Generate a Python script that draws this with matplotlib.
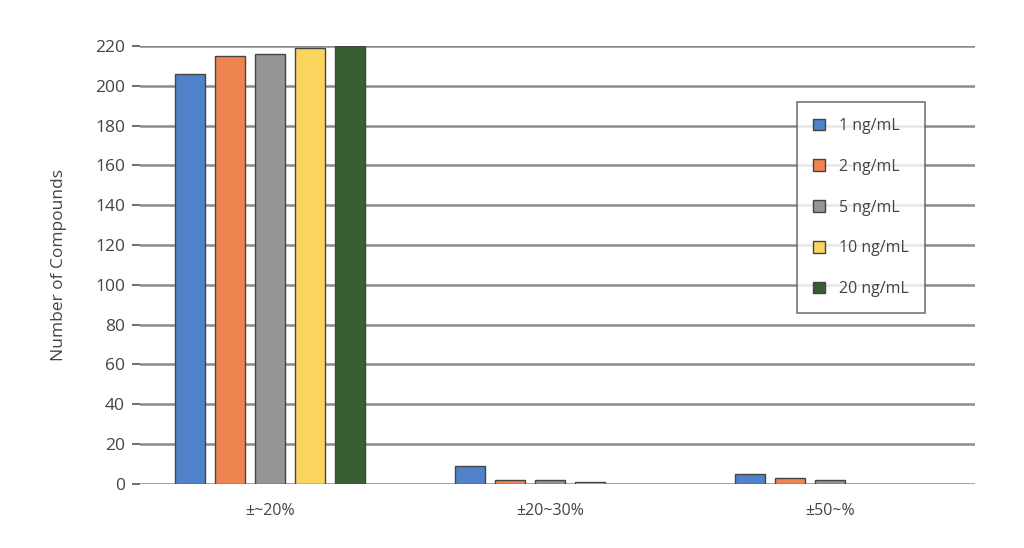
import numpy as np
import matplotlib.pyplot as plt

plt.rcParams['font.family'] = ['Open Sans', 'DejaVu Sans']

categories = ['±~20%', '±20~30%', '±50~%']
series = ['1 ng/mL', '2 ng/mL', '5 ng/mL', '10 ng/mL', '20 ng/mL']
values = [
    [206, 9, 5],
    [215, 2, 3],
    [216, 2, 2],
    [219, 1, 0],
    [220, 0, 0],
]
colors = ['#4F82C8', '#EE8551', '#959595', '#FAD45C', '#3A5E34']

fig = plt.figure(figsize=(10.24, 5.48), dpi=100)
ax = fig.add_axes([0.137, 0.117, 0.815, 0.799])

x = np.arange(len(categories))
w = 0.107
step = 0.143
for i, (name, vals) in enumerate(zip(series, values)):
    lw = [1.0 if v > 0 else 0 for v in vals]
    ax.bar(x + (i - 2) * step, vals, width=w, color=colors[i],
           edgecolor='#444444', linewidth=lw, label=name, zorder=3)

ax.set_xlim(-0.464, 2.518)
ax.set_ylim(0, 220)
ax.set_yticks(range(0, 221, 20))
ax.set_xticks(x)
ax.set_xticklabels(categories)
ax.yaxis.grid(True, color='#8a8a8a', linewidth=1.8, zorder=0)
ax.set_axisbelow(True)
for s in ax.spines.values():
    s.set_visible(False)
ax.tick_params(axis='x', length=0, pad=14, labelsize=11.5, colors='#444444')
ax.tick_params(axis='y', length=6, width=1.2, color='#555555', pad=5,
               labelsize=12.5, labelcolor='#444444')
ax.set_ylabel('Number of Compounds', fontsize=12.5, color='#444444', labelpad=20)

leg = ax.legend(loc='upper left', bbox_to_anchor=(0.787, 0.872), frameon=True,
                fancybox=False, edgecolor='#555555', fontsize=11.5,
                labelspacing=1.55, handlelength=0.75, handleheight=0.75,
                borderpad=1.0, handletextpad=0.9, borderaxespad=0)
leg.get_frame().set_linewidth(1.2)
for t in leg.get_texts():
    t.set_color('#444444')

fig.savefig('out.png', dpi=100, facecolor='white')
